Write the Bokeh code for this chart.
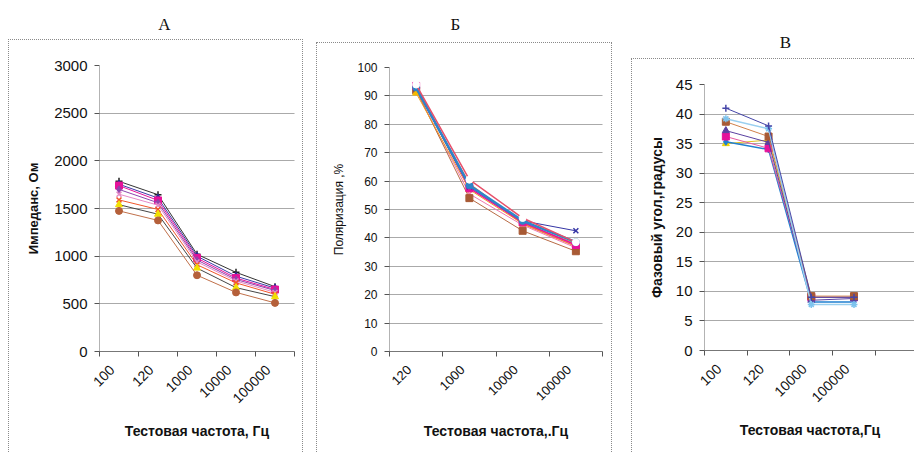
import math
from bokeh.plotting import figure
from bokeh.models import Range1d, FixedTicker, Label, Spacer
from bokeh.layouts import row, column
from bokeh.embed import file_html
from bokeh.resources import INLINE

# ---------------- data ----------------
# Panel A: impedance, Ohm
a_cats = ["100", "120", "1000", "10000", "100000"]
a_s1 = [1785, 1645, 1020, 830, 680]
a_s2 = [1755, 1610, 1000, 790, 665]
a_s3 = [1740, 1585, 980, 770, 650]
a_s4 = [1700, 1560, 960, 755, 640]
a_s5 = [1650, 1535, 940, 740, 620]
a_s6 = [1590, 1490, 910, 720, 600]
a_s7 = [1540, 1440, 875, 670, 575]
a_s8 = [1475, 1375, 800, 620, 510]
a_yticks = [0, 500, 1000, 1500, 2000, 2500, 3000]

# Panel B: polarization, %
b_cats = ["120", "1000", "10000", "100000"]
b_s1 = [94, 60.5, 47, 38.5]
b_s2 = [93, 58.5, 46, 38.5]
b_s3 = [92.5, 58, 46, 42.5]
b_s4 = [93.5, 57.5, 45.5, 37.5]
b_s5 = [91, 57, 45, 38]
b_s6 = [92, 55.5, 44.5, 36.5]
b_s7 = [92, 54, 42.5, 35.3]
b_s8 = [92.5, 59, 45, 37]
b_yticks = [0, 10, 20, 30, 40, 50, 60, 70, 80, 90, 100]

# Panel V: phase angle, degrees
v_cats = ["100", "120", "10000", "100000"]
v_s1 = [41, 38, 9, 9]
v_s2 = [39.2, 37.5, 7.8, 7.8]
v_s3 = [38.7, 36.2, 9.2, 9.2]
v_s4 = [37.2, 35.2, 8.5, 8.8]
v_s5 = [36.2, 34.2, 9, 9]
v_s6 = [35.3, 34, 8.2, 8.2]
v_s7 = [35, 35.6, 9, 9]
v_yticks = [0, 5, 10, 15, 20, 25, 30, 35, 40, 45]

FONT = "Liberation Sans"


def title_fig(text, w, h, sx, cy_from_top):
    # sx is measured from the (column-aligned) plot frame's left edge
    p = figure(width=w, height=h, title=None, output_backend="svg",
               toolbar_location=None, x_range=Range1d(0, w), y_range=Range1d(0, h),
               x_axis_type=None, y_axis_type=None,
               min_border=0, min_border_left=0, min_border_right=0,
               min_border_top=0, min_border_bottom=0)
    p.grid.visible = False
    p.outline_line_color = None
    p.add_layout(Label(x=sx, y=h - cy_from_top, x_units="screen", y_units="screen",
                       text=text, text_align="center",
                       text_baseline="middle", text_font="Liberation Serif",
                       text_font_size="17px", text_color="#111111"))
    return p


def panel(cats, series, yticks, ymax, w, h, bl, br, bt, bb, xlabel, ylabel,
          ytick_size, ylab_size, ylab_style, xtick_size, xextra=0.0,
          ylab_standoff=10, xlab_standoff=18, border_right=True):
    n = len(cats)
    p = figure(width=w, height=h, title=None, output_backend="svg",
               toolbar_location=None,
               x_range=Range1d(0.5, n + 0.5 + xextra), y_range=Range1d(0, ymax),
               min_border_left=bl, min_border_right=br, min_border_top=bt,
               min_border_bottom=bb)
    p.outline_line_color = None
    p.xgrid.visible = False
    p.ygrid.grid_line_color = "#555555"
    p.ygrid.grid_line_dash = "1 1"
    p.ygrid.ticker = FixedTicker(ticks=yticks)

    centers = list(range(1, n + 1))
    bounds = [i + 0.5 for i in range(0, n + 1 + int(math.ceil(xextra)))]
    frame_w = w - bl - br
    shift = 7.0 / (frame_w / (n + xextra))
    label_pos = [round(c - shift, 4) for c in centers]
    ax = p.xaxis[0]
    ax.ticker = FixedTicker(ticks=label_pos, minor_ticks=bounds)
    ax.major_label_overrides = {lp: lab for lp, lab in zip(label_pos, cats)}
    ax.major_label_orientation = math.pi / 4
    ax.major_tick_line_color = None
    ax.major_tick_out = 0
    ax.major_tick_in = 0
    ax.minor_tick_line_color = "#555555"
    ax.minor_tick_out = 5
    ax.minor_tick_in = 0
    ax.axis_line_color = "#777777"
    ax.major_label_text_font = FONT
    ax.major_label_text_font_size = xtick_size
    ax.major_label_text_color = "#111111"
    ax.major_label_standoff = 11
    ax.axis_label = xlabel
    ax.axis_label_text_font = FONT
    ax.axis_label_text_font_size = "14px"
    ax.axis_label_text_font_style = "bold"
    ax.axis_label_text_color = "#111111"
    ax.axis_label_standoff = xlab_standoff

    ay = p.yaxis[0]
    ay.ticker = FixedTicker(ticks=yticks)
    ay.minor_tick_line_color = None
    ay.major_tick_line_color = "#555555"
    ay.major_tick_out = 5
    ay.major_tick_in = 0
    ay.axis_line_color = "#666666"
    ay.axis_line_dash = "1 1"
    ay.major_label_text_font = FONT
    ay.major_label_text_font_size = ytick_size
    ay.major_label_text_color = "#111111"
    ay.major_label_standoff = 7
    ay.axis_label = ylabel
    ay.axis_label_text_font = FONT
    ay.axis_label_text_font_size = ylab_size
    ay.axis_label_text_font_style = ylab_style
    ay.axis_label_text_color = "#111111"
    ay.axis_label_standoff = ylab_standoff

    for vals, lc, mk, mc, lw in series:
        p.line(centers, vals, line_color=lc, line_width=lw)
        p.scatter(centers, vals, marker=mk, size=7, fill_color=mc, line_color=mc,
                  line_width=1.5 if mk in ("cross", "x", "asterisk") else 1)

    css = {"border-top": "1px dotted #8a8a8a", "border-left": "1px dotted #8a8a8a",
           "box-sizing": "border-box"}
    if border_right:
        css["border-right"] = "1px dotted #8a8a8a"
    p.styles = css
    return p


a_series = [
    (a_s1, "#333333", "cross", "#222222", 1),
    (a_s2, "#3a3aa8", "triangle", "#2b2b9e", 1),
    (a_s3, "#e5129a", "square", "#e5129a", 1),
    (a_s4, "#8e44ad", "diamond", "#8e44ad", 1),
    (a_s5, "#e58ac8", "x", "#e58ac8", 1),
    (a_s6, "#f0562a", "x", "#f0562a", 1),
    (a_s7, "#444444", "triangle", "#f2e000", 1),
    (a_s8, "#c0704a", "circle", "#b5603a", 1),
]
b_series = [
    (b_s8, "#f08040", "circle", "#f08040", 1.5),
    (b_s6, "#f07ab0", "x", "#f07ab0", 1),
    (b_s7, "#b86a45", "square", "#a85a35", 1),
    (b_s5, "#f0a020", "triangle", "#f5b800", 1),
    (b_s4, "#e5129a", "square", "#e5129a", 1.5),
    (b_s3, "#3535a5", "x", "#3535a5", 1),
    (b_s2, "#2e86c8", "circle", "#2e86c8", 2.5),
    (b_s1, "#e8506a", "circle", "#ffffff", 1.5),
]
v_series = [
    (v_s7, "#e0c020", "triangle", "#f0d000", 1),
    (v_s6, "#2080d0", "diamond", "#2080d0", 1.5),
    (v_s5, "#e85aa0", "square", "#e5129a", 1),
    (v_s4, "#5a40a0", "triangle", "#5a40a0", 1),
    (v_s3, "#d0804a", "square", "#a85a35", 1),
    (v_s2, "#9ad0f0", "asterisk", "#7ec4ee", 1.5),
    (v_s1, "#4545a8", "cross", "#4545a8", 1),
]

ta = title_fig("А", 295, 39, 156 - 90, 24)
pa = panel(a_cats, a_series, a_yticks, 3000, 295, 413, 90, 10, 25, 102,
           "Тестовая частота, Гц", "Импеданс, Ом", "15px", "13px", "bold", "14px",
           ylab_standoff=10, xlab_standoff=12)

tb = title_fig("Б", 296, 42, 139 - 72, 24)
pb = panel(b_cats, b_series, b_yticks, 100, 296, 410, 72, 11, 24, 102,
           "Тестовая частота,.Гц", "Поляризация ,%", "12px", "12px", "normal", "13px",
           ylab_standoff=8, xlab_standoff=15)

tv = title_fig("В", 283, 58, 154 - 72, 42)
pv = panel(v_cats, v_series, v_yticks, 45, 283, 394, 72, 0, 25, 103,
           "Тестовая частота,Гц", "Фазовый угол,градусы", "15px", "14px", "bold", "14px",
           xextra=0.94, ylab_standoff=8, xlab_standoff=12, border_right=False)

layout = row(Spacer(width=8, height=10), column(ta, pa), Spacer(width=13, height=10),
             column(tb, pb), Spacer(width=19, height=10), column(tv, pv))

open("out.html", "w").write(file_html(layout, INLINE))
